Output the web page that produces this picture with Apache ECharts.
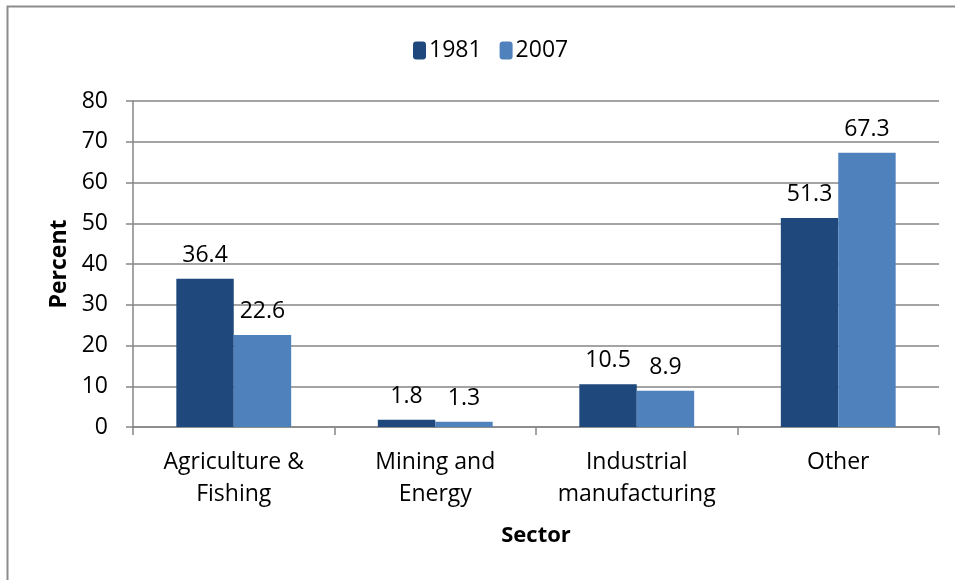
<!DOCTYPE html>
<html>
<head>
    <meta charset="utf-8">
    <title>ECharts</title>
    <script src="https://cdn.jsdelivr.net/npm/echarts@6/dist/echarts.min.js"></script>
</head>
<body style="margin:0;">
    <div id="main" style="width: 955px;height:580px;"></div>
    <script type="text/javascript">

var sectors = ['Agriculture &\nFishing', 'Mining and\nEnergy', 'Industrial\nmanufacturing', 'Other'];
var years = ['1981', '2007'];
var values1981 = [36.4, 1.8, 10.5, 51.3];
var values2007 = [22.6, 1.3, 8.9, 67.3];
var yTicks = [0, 80, 10];

var myChart = echarts.init(document.getElementById('main'));
var font = '"Open Sans", sans-serif';
var fs = 23;

function barSeries(name, data, color) {
    return {
        name: name,
        type: 'bar',
        data: data,
        barGap: '0%',
        barCategoryGap: '43%',
        itemStyle: { color: color },
        label: {
            show: true,
            position: 'top',
            distance: 12,
            color: '#000',
            fontFamily: font,
            fontSize: fs
        }
    };
}

var option = {
    animation: false,
    graphic: [{
        type: 'rect',
        shape: { x: 7.5, y: 6.5, width: 1000, height: 1000 },
        style: { fill: 'none', stroke: '#8c8c8c', lineWidth: 2 },
        z: -1
    }],
    legend: {
        data: years,
        top: 34,
        left: 408,
        itemWidth: 13,
        itemHeight: 18,
        itemGap: 18,
        textStyle: { fontFamily: font, fontSize: fs, color: '#000', padding: [0, 0, 0, -2] }
    },
    grid: { left: 133, right: 16, top: 101, bottom: 153 },
    xAxis: {
        type: 'category',
        data: sectors,
        name: 'Sector',
        nameLocation: 'middle',
        nameGap: 98,
        nameTextStyle: { fontFamily: font, fontSize: 22, fontWeight: 'bold', color: '#000' },
        axisLine: { lineStyle: { color: '#868686', width: 1.5 } },
        axisTick: { show: true, length: 8, lineStyle: { color: '#868686', width: 1.5 } },
        axisLabel: { fontFamily: font, fontSize: fs, color: '#000', margin: 19, lineHeight: 32, interval: 0 }
    },
    yAxis: {
        type: 'value',
        min: yTicks[0],
        max: yTicks[1],
        interval: yTicks[2],
        name: 'Percent',
        nameLocation: 'middle',
        nameGap: 61,
        nameTextStyle: { fontFamily: font, fontSize: 23, fontWeight: 'bold', color: '#000' },
        axisLine: { show: true, lineStyle: { color: '#868686', width: 1.5 } },
        axisTick: { show: true, length: 7, lineStyle: { color: '#868686', width: 1.5 } },
        axisLabel: { fontFamily: font, fontSize: fs, color: '#000', margin: 25 },
        splitLine: { lineStyle: { color: '#868686', width: 1.5 } }
    },
    series: [
        barSeries(years[0], values1981, '#1f497d'),
        barSeries(years[1], values2007, '#4f81bd')
    ]
};
myChart.setOption(option);
    </script>
</body>
</html>
